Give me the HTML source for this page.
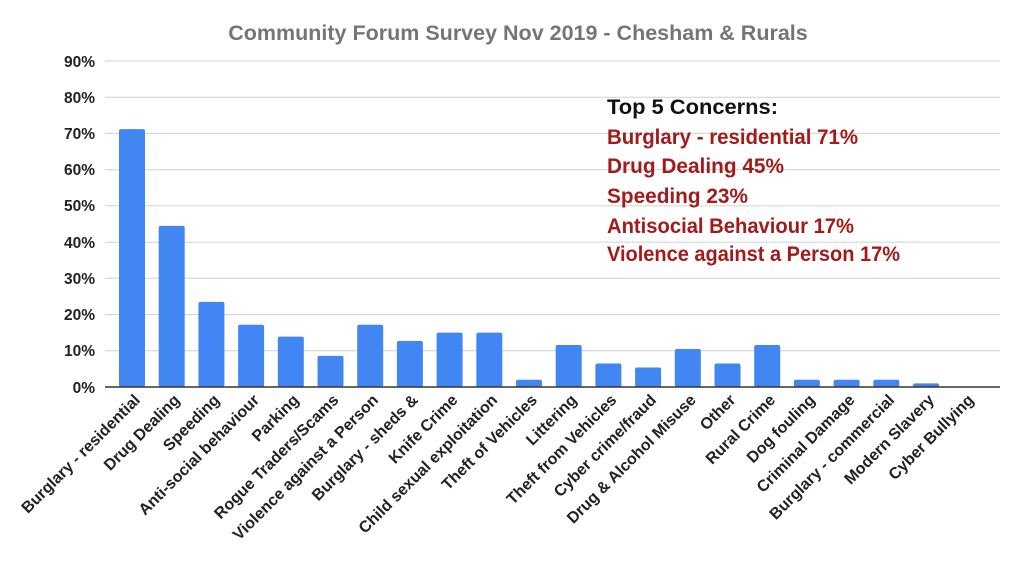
<!DOCTYPE html>
<html><head><meta charset="utf-8"><style>body{margin:0;background:#fff}svg{display:block}</style></head><body>
<svg width="1024" height="578" xmlns="http://www.w3.org/2000/svg" font-family="Liberation Sans, sans-serif">
<rect width="1024" height="578" fill="#fff"/>
<text x="518" y="40" text-anchor="middle" font-size="21.5" font-weight="bold" fill="#757575">Community Forum Survey Nov 2019 - Chesham &amp; Rurals</text>
<g stroke="#d0d0d0" stroke-width="1">
<line x1="105" x2="1000" y1="61" y2="61"/><line x1="105" x2="1000" y1="97.2" y2="97.2"/><line x1="105" x2="1000" y1="133.4" y2="133.4"/><line x1="105" x2="1000" y1="169.7" y2="169.7"/><line x1="105" x2="1000" y1="205.9" y2="205.9"/><line x1="105" x2="1000" y1="242.1" y2="242.1"/><line x1="105" x2="1000" y1="278.3" y2="278.3"/><line x1="105" x2="1000" y1="314.6" y2="314.6"/><line x1="105" x2="1000" y1="350.8" y2="350.8"/>
</g>
<g font-size="15.5" font-weight="bold" fill="#222" text-anchor="end">
<text x="95" y="67">90%</text><text x="95" y="103">80%</text><text x="95" y="139">70%</text><text x="95" y="175">60%</text><text x="95" y="211">50%</text><text x="95" y="248">40%</text><text x="95" y="284">30%</text><text x="95" y="320">20%</text><text x="95" y="356">10%</text><text x="95" y="393">0%</text>
</g>
<g id="bars" fill="#4286f4"></g>
<line x1="105" x2="1000" y1="387" y2="387" stroke="#333" stroke-width="1.5"/>
<g id="labels" font-size="16" font-weight="bold" fill="#222" text-anchor="end"></g>
<g font-size="21" font-weight="bold" xml:space="preserve">
<text x="607" y="114" fill="#111" textLength="171" lengthAdjust="spacingAndGlyphs">Top 5 Concerns:</text>
<text x="607" y="144" fill="#a31a1a" textLength="251" lengthAdjust="spacingAndGlyphs">Burglary - residential  71%</text>
<text x="607" y="173" fill="#a31a1a" textLength="177" lengthAdjust="spacingAndGlyphs">Drug Dealing  45%</text>
<text x="607" y="203" fill="#a31a1a" textLength="141" lengthAdjust="spacingAndGlyphs">Speeding  23%</text>
<text x="607" y="233" fill="#a31a1a" textLength="247" lengthAdjust="spacingAndGlyphs">Antisocial Behaviour  17%</text>
<text x="607" y="261" fill="#a31a1a" textLength="293" lengthAdjust="spacingAndGlyphs">Violence against a Person  17%</text>
</g>
</svg>
<script>
var names=["Burglary - residential","Drug Dealing","Speeding","Anti-social behaviour","Parking","Rogue Traders/Scams","Violence against a Person","Burglary - sheds &","Knife Crime","Child sexual exploitation","Theft of Vehicles","Littering","Theft from Vehicles","Cyber crime/fraud","Drug & Alcohol Misuse","Other","Rural Crime","Dog fouling","Criminal Damage","Burglary - commercial","Modern Slavery","Cyber Bullying"];
var vals=[71.2,44.5,23.5,17.2,13.9,8.6,17.2,12.7,15,15,2,11.6,6.5,5.4,10.5,6.5,11.6,2,2,2,1,0];
var ns="http://www.w3.org/2000/svg",b=document.getElementById("bars"),l=document.getElementById("labels");
for(var i=0;i<22;i++){var cx=132+i*39.7,h=vals[i]*3.622;
if(h>0){var r=document.createElementNS(ns,"rect");r.setAttribute("x",cx-13);r.setAttribute("y",387-h);r.setAttribute("width",26);r.setAttribute("height",h);r.setAttribute("rx",2);b.appendChild(r);}
var t=document.createElementNS(ns,"text");t.setAttribute("transform","translate("+(cx+9)+",401) rotate(-45)");t.textContent=names[i];l.appendChild(t);}
</script>
</body></html>
